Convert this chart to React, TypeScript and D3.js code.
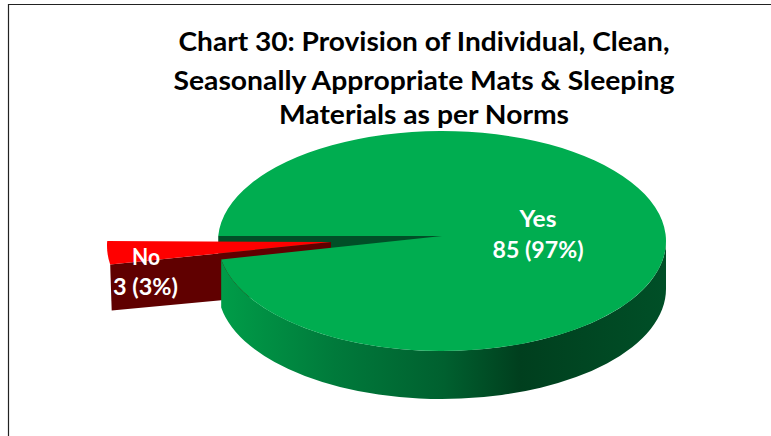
import React from 'react';
import * as d3 from 'd3';

const categories = ['Yes', 'No'];
const counts = [85, 3];
const percents = [97, 3];
const titleLines = [
  'Chart 30: Provision of Individual, Clean,',
  'Seasonally Appropriate Mats & Sleeping',
  'Materials as per Norms',
];
const titleWidths = [491, 501, 290];
const titleBaselines = [51, 90, 124];
const wallStops: [number, string][] = [
  [0, '#009c48'],
  [0.25, '#007a3b'],
  [0.5, '#00602f'],
  [0.67, '#003f1e'],
  [1, '#004f27'],
];

const width = 771;
const height = 436;
const rx = 224;
const ry = 110;
const depth = 48;
// the picture is in perspective, so the slices sit a little rotated on the ellipse
const tilt = (2.6 * Math.PI) / 180;

const pie = d3
  .pie<number>()
  .sort(null)
  .startAngle(-Math.PI / 2 + tilt)
  .endAngle((3 * Math.PI) / 2 + tilt);
const [yesSlice, noSlice] = pie(counts);

type Centre = { cx: number; cy: number; apexY: number };
const yesCentre: Centre = { cx: 442, cy: 241, apexY: 236 };
const noCentre: Centre = { cx: 331, cy: 246, apexY: 242 };

const rim = (c: Centre, a: number): [number, number] => [
  c.cx + rx * Math.sin(a),
  c.cy - ry * Math.cos(a),
];

function sector(c: Centre, a0: number, a1: number) {
  const [x0, y0] = rim(c, a0);
  const [x1, y1] = rim(c, a1);
  const large = a1 - a0 > Math.PI ? 1 : 0;
  return `M${c.cx},${c.apexY}L${x0},${y0}A${rx},${ry} 0 ${large} 1 ${x1},${y1}Z`;
}

// outer wall of the green slice, from its end angle round the bottom to the right side
function yesWall() {
  const [x0, y0] = rim(yesCentre, yesSlice.endAngle);
  const [x1, y1] = rim(yesCentre, Math.PI / 2);
  return (
    `M${x0},${y0}A${rx},${ry} 0 0 0 ${x1},${y1}` +
    `L${x1},${y1 + depth}A${rx},${ry} 0 0 1 ${x0},${y0 + depth}Z`
  );
}

// cut face of the red slice
function noWall() {
  const [x0, y0] = rim(noCentre, noSlice.startAngle);
  const c = noCentre;
  return `M${c.cx},${c.apexY}L${x0},${y0}L${x0 + 1.5},${y0 + depth - 2}L${c.cx},${c.apexY + depth}Z`;
}

export default function App() {
  const [backX] = rim(yesCentre, yesSlice.startAngle);
  const font = 'Lato, "Open Sans", sans-serif';
  return (
    <svg
      width={width}
      height={height}
      style={{ position: 'absolute', left: 0, top: 0, display: 'block', background: '#fff' }}
    >
      <defs>
        <linearGradient id="wall" gradientUnits="userSpaceOnUse" x1={223} x2={666} y1={0} y2={0}>
          {wallStops.map(([o, col]) => (
            <stop key={o} offset={o} stopColor={col} />
          ))}
        </linearGradient>
      </defs>

      {/* chart frame, only left and top show */}
      <path d={`M8.5,${height}V4.5H${width}`} fill="none" stroke="#222" strokeWidth={1.2} />

      {titleLines.map((line, i) => (
        <text
          key={line}
          x={424}
          y={titleBaselines[i]}
          textAnchor="middle"
          fontFamily={font}
          fontWeight={700}
          fontSize={26}
          textLength={titleWidths[i]}
          lengthAdjust="spacingAndGlyphs"
          fill="#000"
        >
          {line}
        </text>
      ))}

      {/* inside of the notch left by the red slice */}
      <rect x={backX} y={yesCentre.apexY} width={yesCentre.cx - backX} height={depth} fill="#004f27" />

      <path d={noWall()} fill="#600000" />
      <path d={sector(noCentre, noSlice.startAngle, noSlice.endAngle)} fill="#ff0000" />

      <path d={yesWall()} fill="url(#wall)" />
      <path d={sector(yesCentre, yesSlice.startAngle, yesSlice.endAngle)} fill="#00ad50" />

      <g fontFamily={font} fontWeight={700} fontSize={22.5} fill="#fff" textAnchor="middle">
        <text x={538} y={227} textLength={37} lengthAdjust="spacingAndGlyphs">{categories[0]}</text>
        <text x={538} y={258} textLength={91} lengthAdjust="spacingAndGlyphs">{`${counts[0]} (${percents[0]}%)`}</text>
        <text x={146} y={265} textLength={28} lengthAdjust="spacingAndGlyphs">{categories[1]}</text>
        <text x={145.5} y={295} textLength={65} lengthAdjust="spacingAndGlyphs">{`${counts[1]} (${percents[1]}%)`}</text>
      </g>
    </svg>
  );
}
